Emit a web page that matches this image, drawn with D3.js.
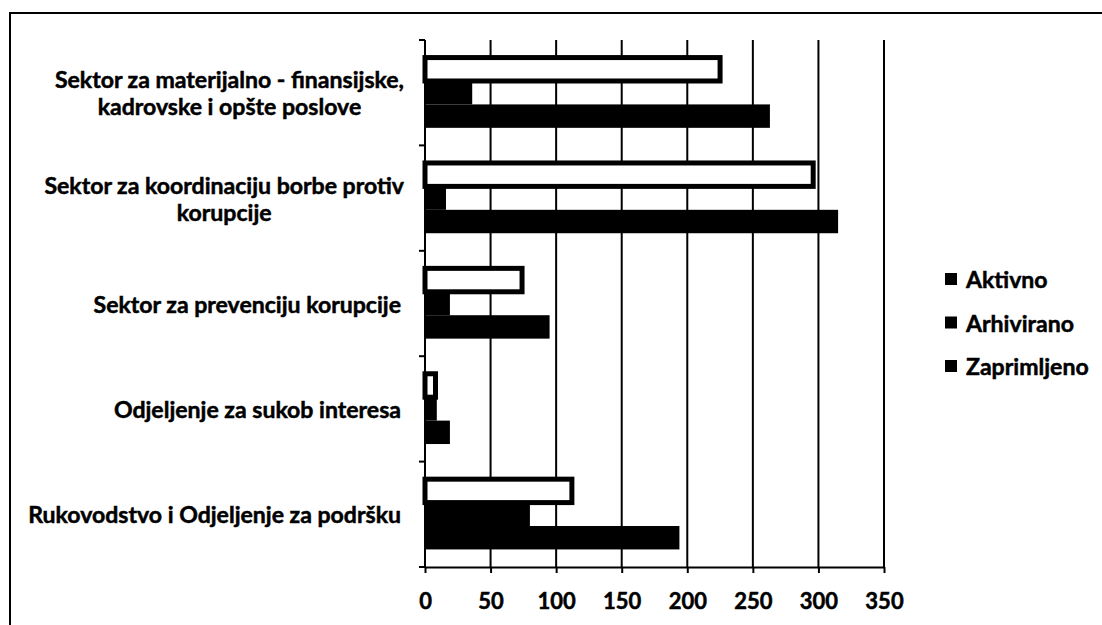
<!DOCTYPE html>
<html>
<head>
<meta charset="utf-8">
<script src="https://cdn.jsdelivr.net/npm/d3@7"></script>
<style>
  html, body { margin: 0; padding: 0; background: #fff; }
  svg { display: block; }
  text { font-family: Lato, "Open Sans", sans-serif; font-weight: 700; fill: #000; stroke: #000; stroke-width: 0.5px; }
</style>
</head>
<body>
<svg id="chart" width="1102" height="625"></svg>
<script>
// ---- data ----
const categories = [
  "Sektor za materijalno - finansijske,\nkadrovske i opšte poslove",
  "Sektor za koordinaciju borbe protiv\nkorupcije",
  "Sektor za prevenciju korupcije",
  "Odjeljenje za sukob interesa",
  "Rukovodstvo i Odjeljenje za podršku"
];
const seriesNames = ["Aktivno", "Arhivirano", "Zaprimljeno"];
const aktivno     = [225, 296, 74, 8, 112];
const arhivirano  = [36, 16, 19, 9, 80];
const zaprimljeno = [263, 315, 95, 19, 194];
const xTicks = [0, 50, 100, 150, 200, 250, 300, 350];

const seriesValues = [aktivno, arhivirano, zaprimljeno];

// ---- layout ----
const svg = d3.select("#chart");
const pLeft = 425, pRight = 884, pTop = 40, pBottom = 567;

// frame
svg.append("rect")
  .attr("x", 10).attr("y", 13).attr("width", 1200).attr("height", 700)
  .attr("fill", "none").attr("stroke", "#000").attr("stroke-width", 2);

const x = d3.scaleLinear().domain([0, 350]).range([pLeft, pRight]);
const y = d3.scaleBand().domain(d3.range(categories.length)).range([pTop, pBottom]).padding(0);
const ys = d3.scaleBand().domain(d3.range(seriesNames.length)).range([0, y.bandwidth()])
  .paddingInner(0).paddingOuter(0.75);

// gridlines
svg.append("g").selectAll("line").data(xTicks.filter(d => d > 0)).join("line")
  .attr("x1", d => x(d)).attr("x2", d => x(d))
  .attr("y1", pTop).attr("y2", pBottom)
  .attr("stroke", "#000").attr("stroke-width", 2);

// bars
const groups = svg.append("g").selectAll("g").data(categories).join("g")
  .attr("transform", (d, i) => `translate(0,${y(i)})`);

groups.each(function(cat, ci) {
  const g = d3.select(this);
  seriesNames.forEach((s, si) => {
    const v = seriesValues[si][ci];
    if (si === 0) {
      g.append("rect")
        .attr("x", x(0)).attr("y", ys(si))
        .attr("width", x(v) - x(0)).attr("height", ys.bandwidth())
        .attr("fill", "#fff").attr("stroke", "#000").attr("stroke-width", 5);
    } else {
      g.append("rect")
        .attr("x", x(0)).attr("y", ys(si))
        .attr("width", x(v) - x(0)).attr("height", ys.bandwidth())
        .attr("fill", "#000");
    }
  });
});

// y axis
const yAx = svg.append("g").attr("transform", `translate(${pLeft},0)`);
yAx.append("line").attr("x1", 0).attr("x2", 0).attr("y1", pTop).attr("y2", pBottom)
  .attr("stroke", "#000").attr("stroke-width", 2);
const boundaries = d3.range(categories.length + 1).map(i => pTop + i * y.step());
yAx.selectAll("line.tk").data(boundaries).join("line").attr("class", "tk")
  .attr("x1", -6).attr("x2", 0).attr("y1", d => d).attr("y2", d => d)
  .attr("stroke", "#000").attr("stroke-width", 2);

// x axis
const xAx = svg.append("g").attr("transform", `translate(0,${pBottom})`)
  .call(d3.axisBottom(x).tickValues(xTicks).tickSize(6).tickSizeOuter(0).tickPadding(20));
xAx.select(".domain").attr("stroke", "#000").attr("stroke-width", 2);
xAx.selectAll(".tick line").attr("stroke", "#000").attr("stroke-width", 2);
xAx.selectAll(".tick text").attr("font-size", 22).attr("fill", "#000")
  .style("font-family", "Lato, sans-serif").style("font-weight", 700)
  .style("stroke", "#000").style("stroke-width", "0.5px");

// category labels
const labG = svg.append("g");
const probe = labG.append("text").attr("font-size", 20).text(categories[4]);
const fs = 20 * 373 / probe.node().getComputedTextLength();
probe.remove();

categories.forEach((cat, i) => {
  const lines = cat.split("\n");
  const cy = y(i) + y.bandwidth() / 2;
  const lh = 27;
  if (lines.length === 1) {
    labG.append("text").attr("x", 401).attr("y", cy)
      .attr("font-size", fs).attr("text-anchor", "end").attr("dominant-baseline", "central")
      .text(lines[0]);
  } else {
    const t = labG.append("text").attr("font-size", fs).attr("text-anchor", "middle");
    lines.forEach((ln, k) => {
      t.append("tspan").attr("y", cy + (k - (lines.length - 1) / 2) * lh)
        .attr("dominant-baseline", "central").text(ln);
    });
    const w = d3.max(t.selectAll("tspan").nodes(), n => n.getComputedTextLength());
    t.selectAll("tspan").attr("x", 404 - w / 2);
  }
});

// legend
const leg = svg.append("g");
seriesNames.forEach((s, i) => {
  const cy = 279 + i * 43.5;
  leg.append("rect").attr("x", 945).attr("y", cy - 6).attr("width", 12).attr("height", 12).attr("fill", "#000");
  leg.append("text").attr("x", 966).attr("y", cy).attr("dominant-baseline", "central")
    .attr("font-size", fs).text(s);
});
</script>
</body>
</html>
